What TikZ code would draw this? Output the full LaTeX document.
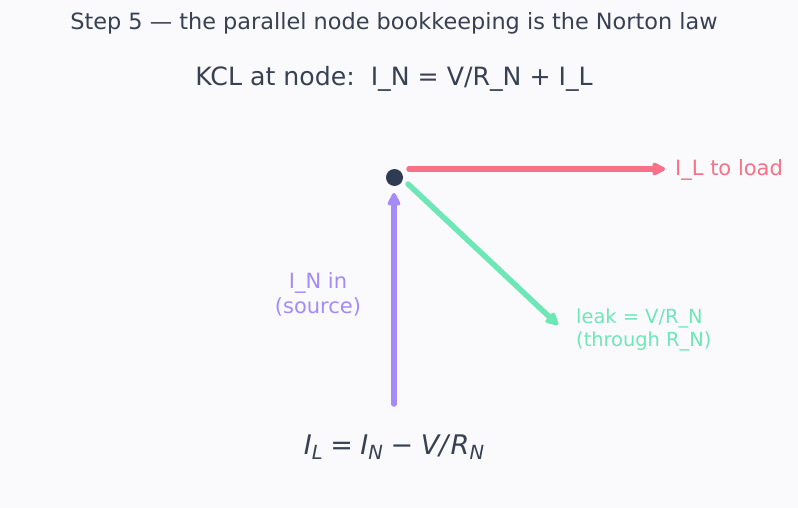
\documentclass[tikz,border=0pt]{standalone}
\usepackage{fontspec}
\setmainfont{DejaVu Sans}
\usetikzlibrary{arrows.meta}
\definecolor{bg}{HTML}{FAFAFD}
\definecolor{ink}{HTML}{384152}
\definecolor{dotc}{HTML}{2F3B52}
\definecolor{loadc}{HTML}{F87187}
\definecolor{leakc}{HTML}{6EE7B7}
\definecolor{srcc}{HTML}{A48BF8}
% italic symbol with italic subscript
\newcommand{\symsub}[2]{\textit{#1}\raisebox{-4.5pt}{\fontsize{19.5}{19.5}\selectfont\textit{#2}}}
\newcommand{\opsp}{\hspace{0.28em}}
\tikzset{
  current/.style={line width=5.5pt, line cap=round, -{Triangle[length=15pt,width=14pt,round]}},
  lbl/.style={font=\fontsize{21}{25}\selectfont, align=left, inner sep=0pt},
}
\begin{document}
\begin{tikzpicture}[x=1pt,y=-1pt]
  \fill[bg] (0,0) rectangle (798,508);
  \useasboundingbox (0,0) rectangle (798,508);

  \node[text=ink, font=\fontsize{22.4}{26}\selectfont] (title) at (394,23) {Step 5 — the parallel node bookkeeping is the Norton law};
  \node[text=ink, font=\fontsize{25.2}{30}\selectfont] (kcl) at (394,79) {KCL at node:\ \ I\_N = V/R\_N + I\_L};

  % junction node
  \node[circle, fill=dotc, minimum size=17pt, inner sep=0pt] (n) at (394.5,177.5) {};

  % branch end points
  \coordinate (loadstart) at (409,169);
  \coordinate (loadend) at (665,169);
  \coordinate (leakstart) at (408,184);
  \coordinate (leakend) at (558,325);
  \coordinate (srcstart) at (394,404);
  \coordinate (srcend) at (394,193);

  \draw[current, loadc] (loadstart) -- (loadend);
  \draw[current, leakc] (leakstart) -- (leakend);
  \draw[current, srcc] (srcstart) -- (srcend);

  \node[lbl, text=loadc, anchor=west] (loadlbl) at (675,170) {I\_L to load};
  \node[lbl, text=leakc, anchor=west, font=\fontsize{19.4}{22.5}\selectfont] (leaklbl) at (576,330) {leak = V/R\_N\\(through R\_N)};
  \node[lbl, text=srcc, align=center] (srclbl) at (318,294) {I\_N in\\(source)};

  \node[text=ink, font=\fontsize{27}{32}\selectfont] (law) at (394,447)
    {\symsub{I}{L}\opsp=\opsp\symsub{I}{N}\opsp−\opsp\textit{V/}\symsub{R}{N}};
\end{tikzpicture}
\end{document}
